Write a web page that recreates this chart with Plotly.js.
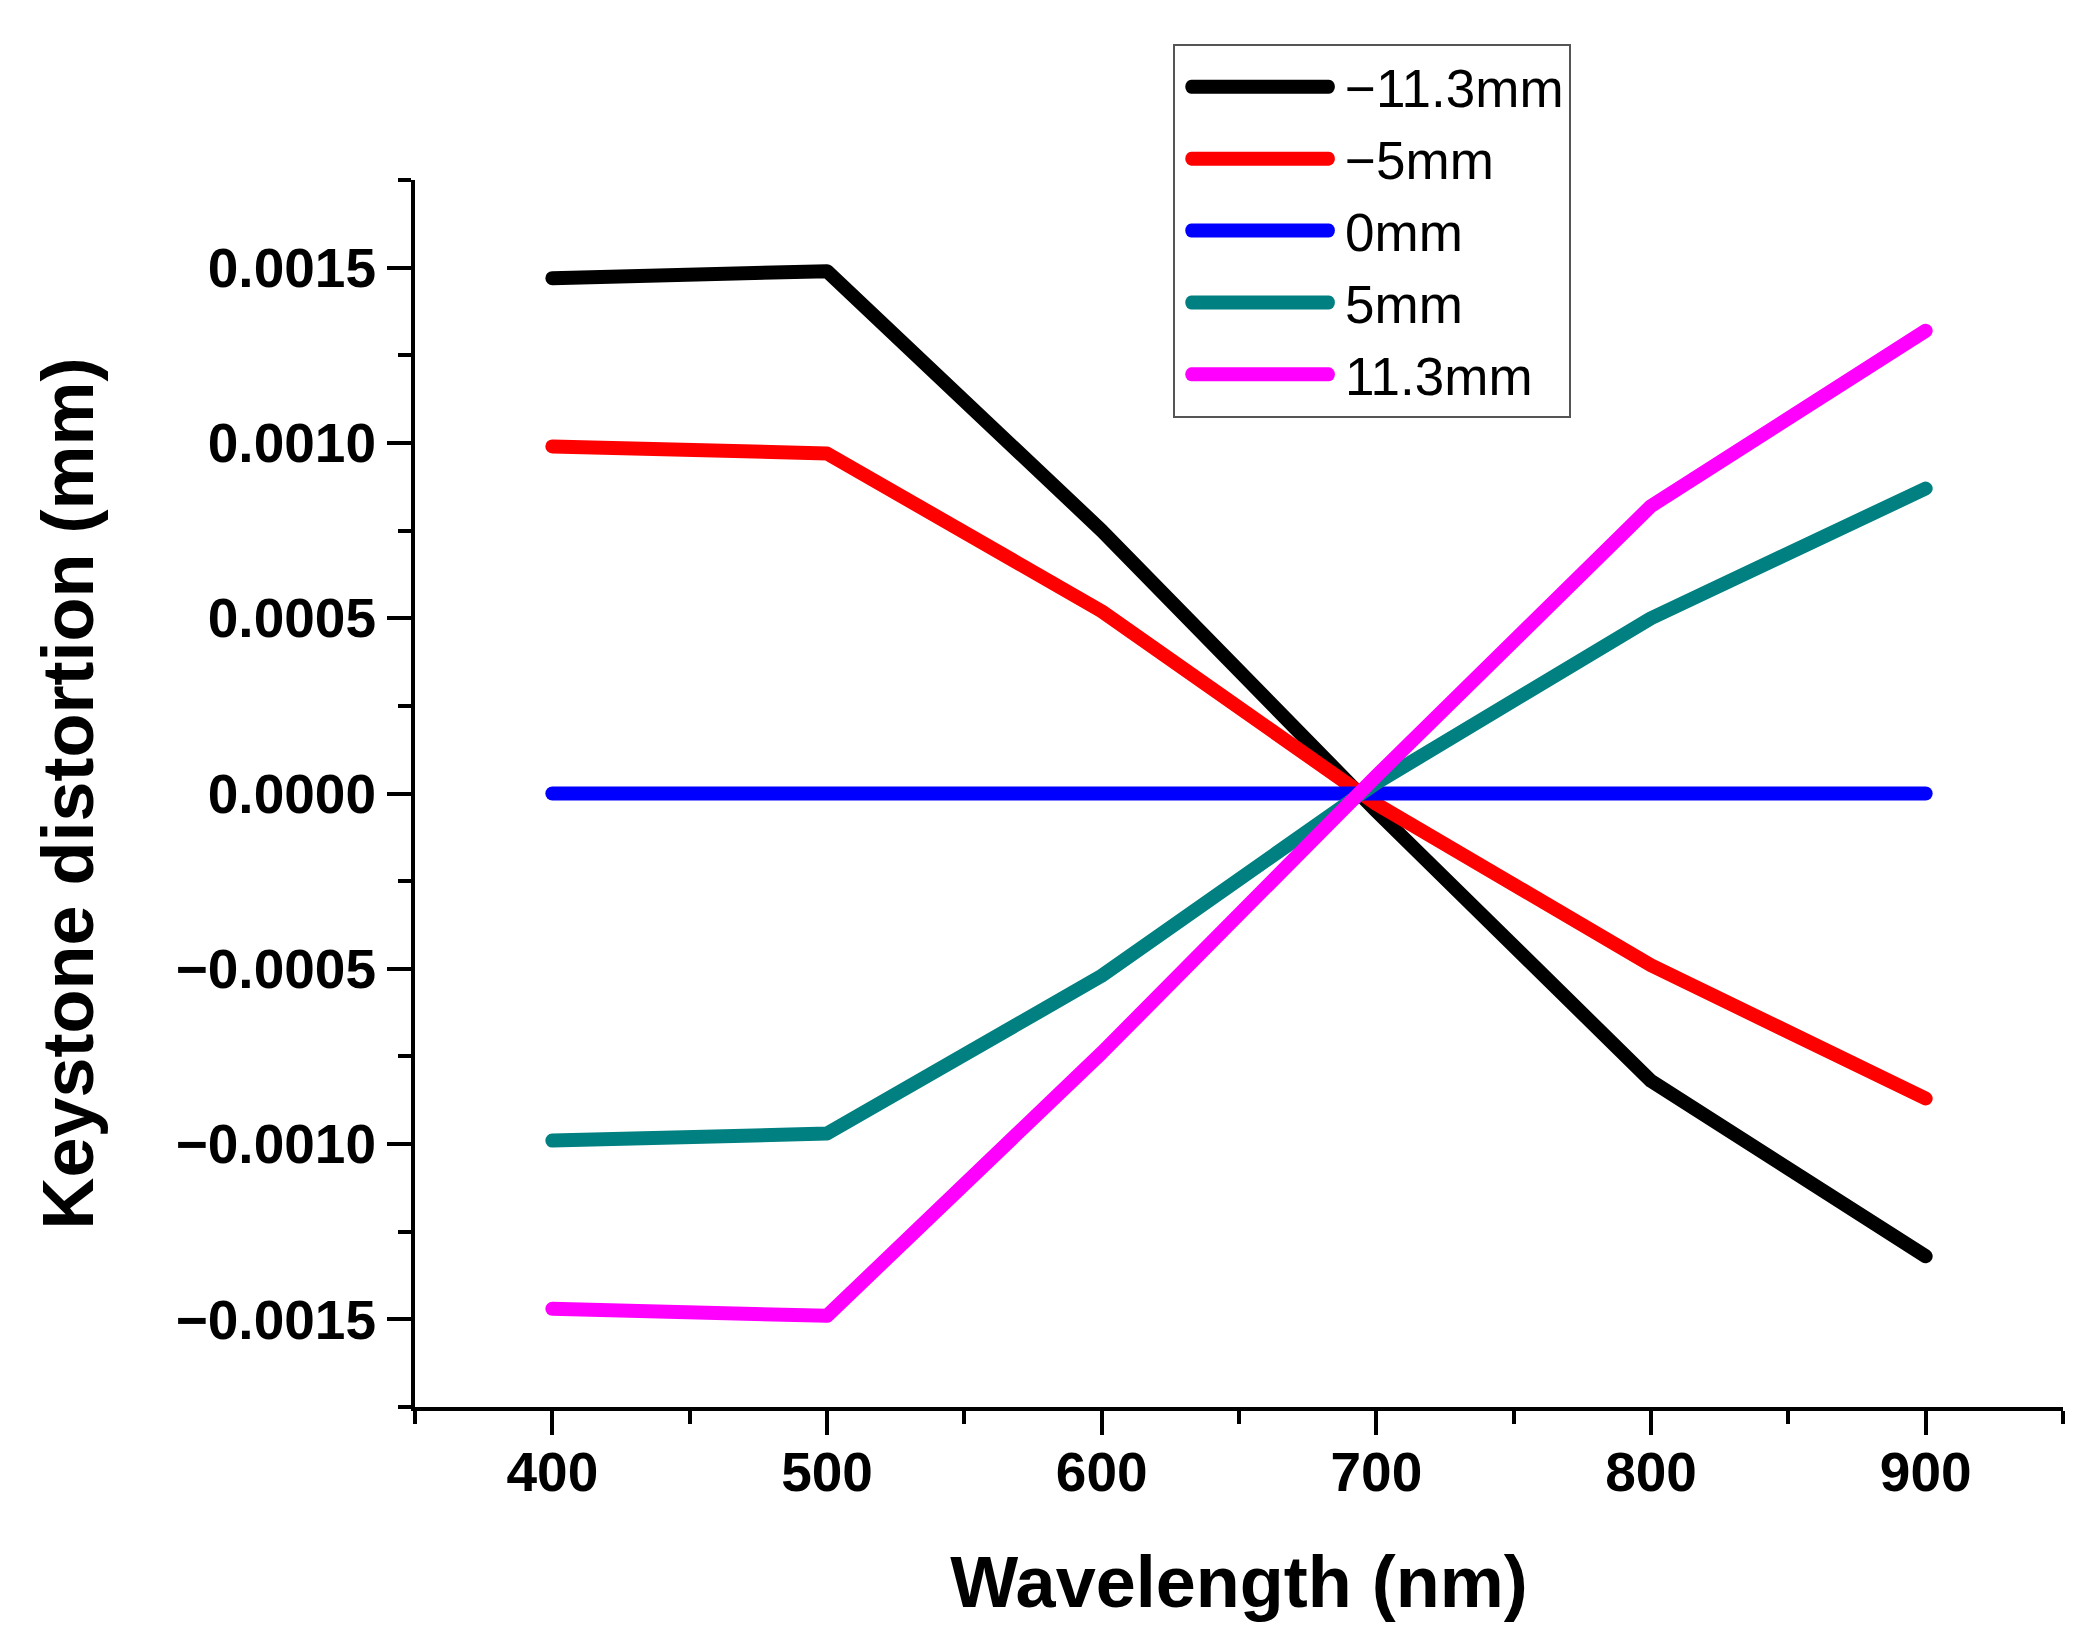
<!DOCTYPE html>
<html>
<head>
<meta charset="utf-8">
<script src="https://cdn.plot.ly/plotly-3.0.1.min.js"></script>
<style>
  html, body { margin: 0; padding: 0; background: #ffffff; }
  #chart { width: 2099px; height: 1651px; }
  #chart .js-line { stroke-linecap: round !important; stroke-linejoin: round !important; }
  #chart .legendlines path {
    stroke-linecap: round !important;
    stroke-width: 14px !important;
    transform-box: fill-box;
    transform-origin: center;
    transform: scaleX(0.86);
  }
</style>
</head>
<body>
<div id="chart"></div>
<script>
// ---- data ----
const wavelength = [400, 500, 600, 700, 800, 900];
const seriesNames = ["\u221211.3mm", "\u22125mm", "0mm", "5mm", "11.3mm"];
const kNeg11_3 = [0.00147, 0.00149, 0.00075, -0.00005, -0.00082, -0.00132];
const kNeg5    = [0.00099, 0.00097, 0.00052, -0.00003, -0.00049, -0.00087];
const kZero    = [0, 0, 0, 0, 0, 0];
const kPos5    = [-0.00099, -0.00097, -0.00052, 0.00003, 0.00050, 0.00087];
const kPos11_3 = [-0.00147, -0.00149, -0.00074, 0.00005, 0.00082, 0.00132];
const xTickVals = [400, 500, 600, 700, 800, 900];
const yTickVals = [-0.0015, -0.0010, -0.0005, 0.0, 0.0005, 0.0010, 0.0015];

const colors = ["#000000", "#ff0000", "#0000ff", "#008080", "#ff00ff"];
const ys = [kNeg11_3, kNeg5, kZero, kPos5, kPos11_3];

const traces = ys.map((y, i) => ({
  x: wavelength,
  y: y,
  name: seriesNames[i],
  type: "scatter",
  mode: "lines",
  line: { color: colors[i], width: 14 }
}));

const axisFont = { family: "Liberation Sans, Arial, sans-serif", size: 55, color: "#000", weight: "bold" };

const layout = {
  width: 2099,
  height: 1651,
  margin: { l: 415, r: 36, t: 180, b: 244, pad: 0 },
  paper_bgcolor: "#ffffff",
  plot_bgcolor: "#ffffff",
  font: { family: "Liberation Sans, Arial, sans-serif", color: "#000" },
  showlegend: true,
  legend: {
    x: 0.46, y: 1.111, xanchor: "left", yanchor: "top",
    bgcolor: "#ffffff",
    bordercolor: "#555555",
    borderwidth: 2,
    font: { family: "Liberation Sans, Arial, sans-serif", size: 53, color: "#000" },
    itemwidth: 160,
    tracegroupgap: 0
  },
  xaxis: {
    range: [350, 950],
    tickmode: "array",
    tickvals: xTickVals,
    ticktext: xTickVals.map(String),
    ticks: "outside",
    ticklen: 24,
    tickwidth: 4,
    tickcolor: "#000",
    showline: true,
    linecolor: "#000",
    linewidth: 4,
    showgrid: false,
    zeroline: false,
    tickfont: axisFont,
    ticklabelstandoff: -10,
    minor: { dtick: 50, tick0: 350, ticks: "outside", ticklen: 13, tickwidth: 4, tickcolor: "#000", showgrid: false },
    title: {
      text: "<b>Wavelength (nm)</b>",
      font: { family: "Liberation Sans, Arial, sans-serif", size: 72, color: "#000" },
      standoff: 56
    }
  },
  yaxis: {
    range: [-0.00175, 0.00175],
    tickmode: "array",
    tickvals: yTickVals,
    ticktext: yTickVals.map(v => (v < 0 ? "\u2212" : "") + Math.abs(v).toFixed(4)),
    ticks: "outside",
    ticklen: 24,
    tickwidth: 4,
    tickcolor: "#000",
    showline: true,
    linecolor: "#000",
    linewidth: 4,
    showgrid: false,
    zeroline: false,
    tickfont: axisFont,
    minor: { dtick: 0.00025, tick0: -0.00175, ticks: "outside", ticklen: 13, tickwidth: 4, tickcolor: "#000", showgrid: false },
    title: {
      text: "<b>Keystone distortion (mm)</b>",
      font: { family: "Liberation Sans, Arial, sans-serif", size: 72, color: "#000" },
      standoff: 59
    }
  }
};

Plotly.newPlot("chart", traces, layout, { displayModeBar: false, staticPlot: true });
</script>
</body>
</html>
